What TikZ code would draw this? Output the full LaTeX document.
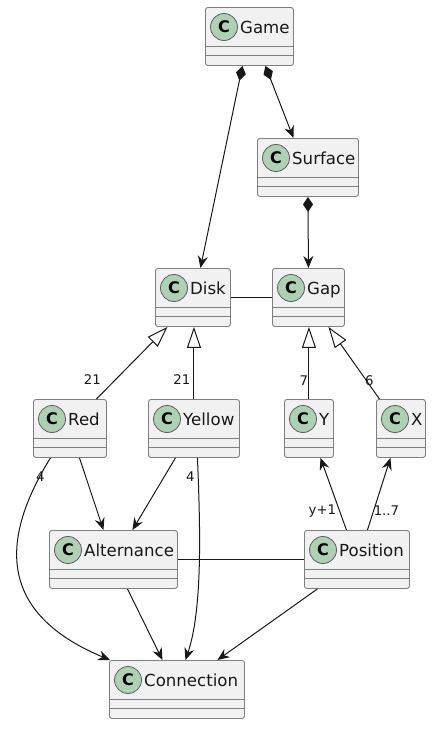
\documentclass[tikz,border=0pt]{standalone}
\usepackage{fontspec}
\setmainfont{DejaVu Sans}
\usetikzlibrary{positioning,
				arrows.meta,
				calc}
\definecolor{boxfill}{HTML}{F1F1F1}
\definecolor{boxline}{HTML}{7F7F7F}
\definecolor{spotfill}{HTML}{ADD1B2}
\definecolor{ink}{HTML}{181818}

\tikzset{
  cls/.style={rectangle,draw=boxline,fill=boxfill,line width=0.9pt,rounded corners=2.5pt,
    anchor=north west,minimum height=58pt,inner sep=0pt},
  spot/.style={circle,draw=ink!70,fill=spotfill,line width=0.8pt,minimum size=27pt,
    inner sep=0pt,font=\fontsize{16}{16}\selectfont\bfseries},
  cname/.style={anchor=base west,inner sep=0pt,font=\fontsize{16.6}{20}\selectfont,text=ink},
  lbl/.style={inner sep=0pt,font=\fontsize{13.3}{16}\selectfont,text=ink},
  assoc/.style={draw=ink,line width=1pt},
  rel/.style={assoc,-{Stealth[length=12pt,width=10pt,inset=4pt]}},
  comp/.style={assoc,{Diamond[length=15pt,width=10pt]}-{Stealth[length=12pt,width=10pt,inset=4pt]}},
  isa/.style={assoc,-{Triangle[length=21pt,width=14pt,fill=white]}}
}

\begin{document}
\begin{tikzpicture}[x=1pt,y=1pt]
  \useasboundingbox (0,0) rectangle (436,-737);
  % classes
  \node[cls,minimum width=88pt]  (game) at (205,-7) {};
  \node[cls,minimum width=101pt] (surface) at (257,-138) {};
  \node[cls,minimum width=75pt]  (disk) at (155,-268) {};
  \node[cls,minimum width=72pt]  (gap) at (272,-268) {};
  \node[cls,minimum width=73pt]  (red) at (33,-399) {};
  \node[cls,minimum width=91pt]  (yellow) at (148,-399) {};
  \node[cls,minimum width=49pt]  (ycoord) at (284,-399) {};
  \node[cls,minimum width=49pt]  (xcoord) at (376,-399) {};
  \node[cls,minimum width=128pt] (alternance) at (49,-530) {};
  \node[cls,minimum width=105pt] (position) at (304,-530) {};
  \node[cls,minimum width=135pt] (connection) at (109,-660) {};
  \foreach \n/\t in {game/Game,surface/Surface,disk/Disk,gap/Gap,red/Red,yellow/Yellow,
      ycoord/Y,xcoord/X,alternance/Alternance,position/Position,connection/Connection} {
    \node[spot] (\n-c) at ([shift={(19pt,-20pt)}]\n.north west) {C};
    \node[cname] (\n-t) at ([shift={(35pt,-26pt)}]\n.north west) {\t};
    \draw[boxline,line width=0.9pt] ([yshift=-39pt]\n.north west) -- ([yshift=-39pt]\n.north east);
    \draw[boxline,line width=0.9pt] ([yshift=-48.5pt]\n.north west) -- ([yshift=-48.5pt]\n.north east);
  }
  % composition
  \draw[comp] ([xshift=-7pt]game.south) -- ([xshift=7.5pt]disk.north);
  \draw[comp] ([xshift=16pt]game.south) -- ([xshift=-14.5pt]surface.north);
  \draw[comp] (surface.south) -- (gap.north);
  \draw[assoc] (disk.east) -- (gap.west);
  % inheritance
  \draw[isa] ([xshift=26.5pt]red.north) node[lbl,xshift=-4pt,yshift=19pt] (l-red) {21}
    -- ([xshift=-25.5pt]disk.south);
  \draw[isa] (yellow.north) node[lbl,xshift=-12pt,yshift=19pt] (l-yellow) {21}
    -- (yellow.north |- disk.south);
  \draw[isa] (ycoord.north) node[lbl,xshift=-5pt,yshift=18pt] (l-y) {7}
    -- (ycoord.north |- gap.south);
  \draw[isa] ([xshift=-21.5pt]xcoord.north) node[lbl,xshift=-10pt,yshift=18pt] (l-x) {6}
    -- ([xshift=20pt]gap.south);
  % lower part
  \draw[rel] ([xshift=9.5pt]red.south) -- ([xshift=-10pt]alternance.north);
  \draw[rel] ([xshift=-18.5pt]yellow.south) -- ([xshift=19pt]alternance.north);
  \draw[rel] ([xshift=-19.5pt]red.south) node[lbl,xshift=-10pt,yshift=-19pt] (l-rc) {4}
    .. controls +(-45,-73) and +(-120,50) .. ([xshift=1pt]connection.north west);
  \draw[rel] ([xshift=3.5pt]yellow.south) node[lbl,xshift=-7pt,yshift=-19pt] (l-yc) {4}
    .. controls +(3,-73) and +(17,50) .. ([xshift=8.5pt]connection.north);
  \draw[rel] ([xshift=14pt]alternance.south) -- ([xshift=-14.5pt]connection.north);
  \draw[rel] ([xshift=-39.5pt]position.south) -- ([xshift=40.5pt]connection.north);
  \draw[rel] ([xshift=-10.5pt]position.north) node[lbl,xshift=-24pt,yshift=19pt] (l-py) {y+1}
    -- ([xshift=11.5pt]ycoord.south);
  \draw[rel] ([xshift=10.5pt]position.north) node[lbl,xshift=19pt,yshift=19pt] (l-px) {1..7}
    -- ([xshift=-10.5pt]xcoord.south);
  \draw[assoc] (alternance.east) -- (position.west);
\end{tikzpicture}
\end{document}
